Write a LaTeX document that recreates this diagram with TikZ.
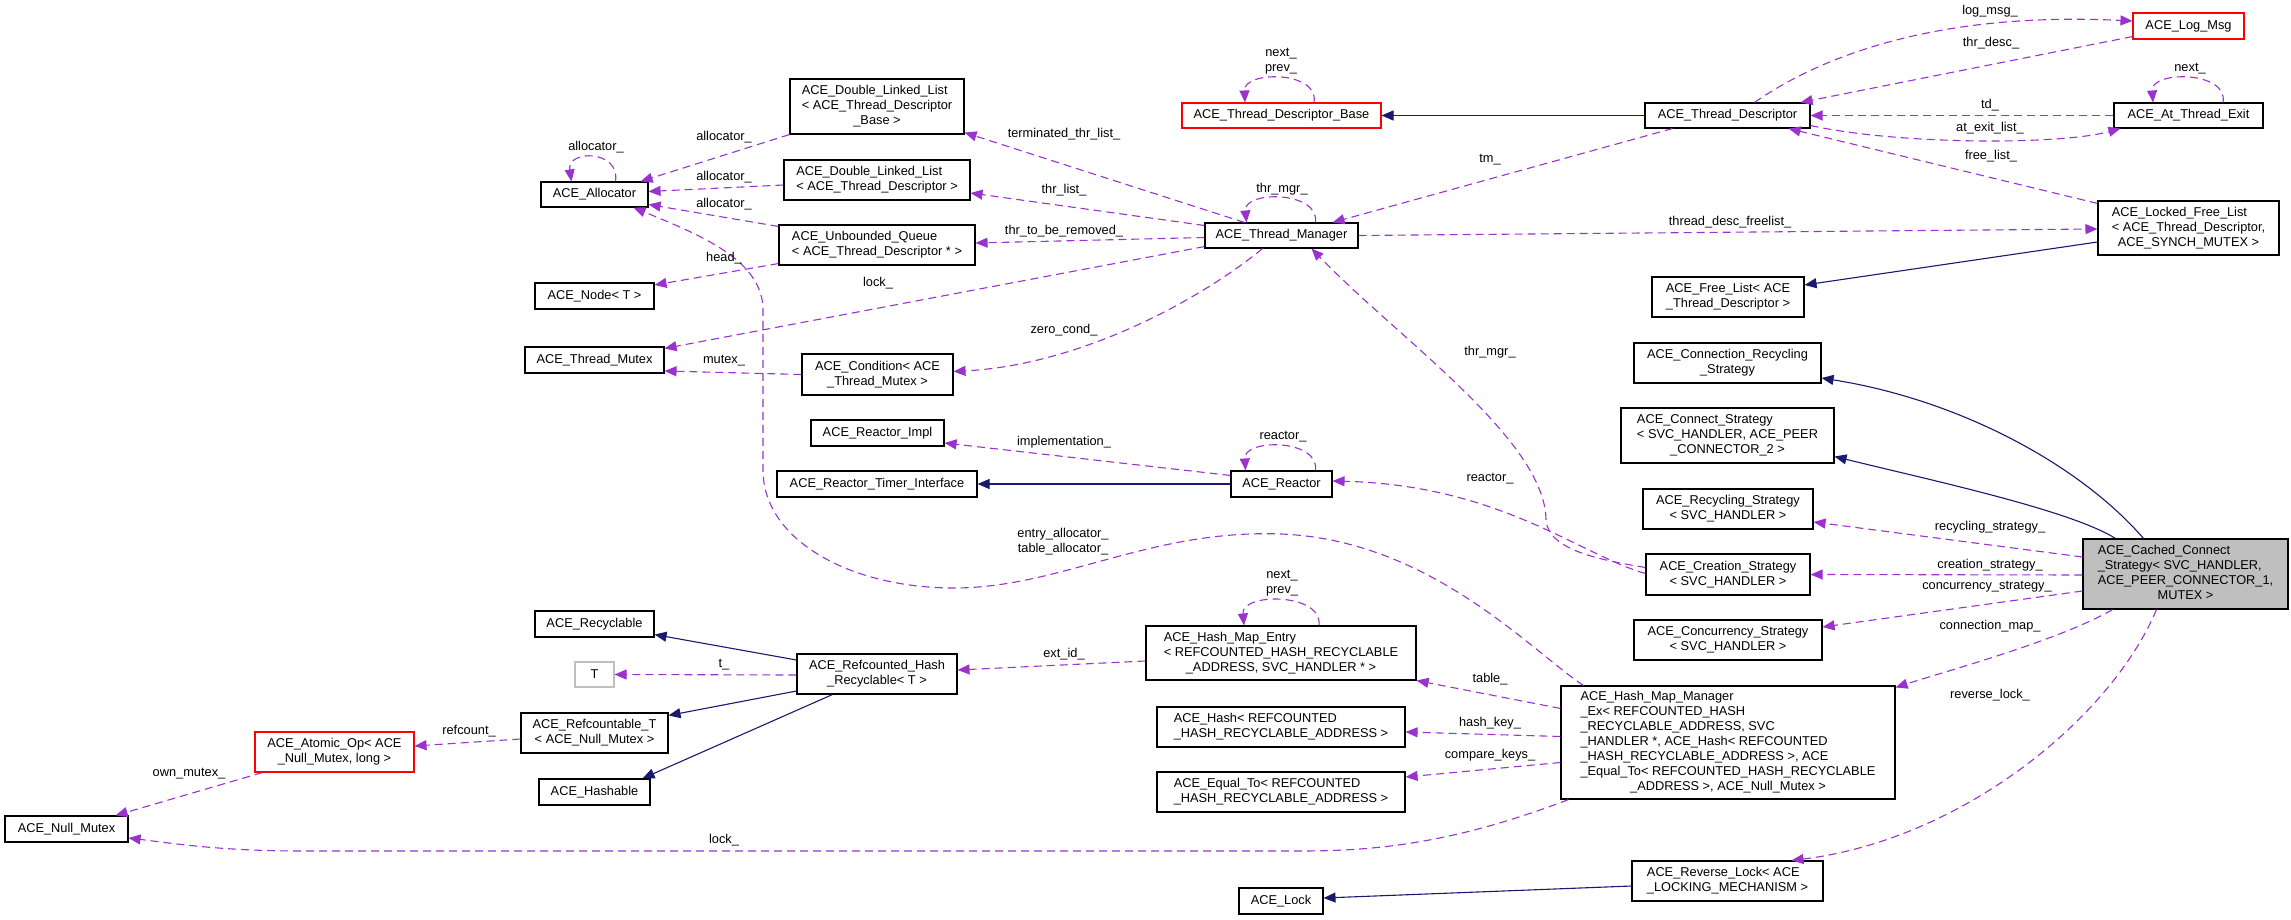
\documentclass[tikz,border=0pt]{standalone}
\usepackage{fontspec}
\setmainfont{Liberation Sans}
\usetikzlibrary{arrows.meta,calc}
\definecolor{edgep}{HTML}{9A32CD}
\definecolor{edgeb}{HTML}{191970}
\definecolor{redb}{HTML}{FF0000}
\definecolor{grayf}{HTML}{BFBFBF}
\newcommand{\mlA}[2]{\begin{tabular}{@{}l@{}}#1\\\multicolumn{1}{@{}c@{}}{#2}\end{tabular}}
\tikzset{
 cls/.style={draw=black, line width=1.1pt, fill=white, inner xsep=3pt, inner ysep=1pt, font=\fontsize{12.8}{15}\selectfont},
 redcls/.style={cls, draw=redb},
 use/.style={draw=edgep, line width=1.1pt, dash pattern=on 8pt off 5pt, -{Triangle[length=12pt,width=10pt]}},
 inh/.style={draw=edgeb, line width=1.1pt, -{Triangle[length=12pt,width=10pt]}},
 lbl/.style={font=\fontsize{12.8}{15}\selectfont, inner sep=0pt, align=center},
}
\begin{document}
\begin{tikzpicture}[x=1pt,y=-1pt]
\useasboundingbox (0,0) rectangle (2291,920);
% nodes
\node[cls, minimum width=107, minimum height=25] (alloc) at (594.5,194.5) {ACE\_Allocator};
\node[cls, minimum width=119, minimum height=26] (anode) at (594.5,296) {ACE\_Node< T >};
\node[cls, minimum width=139, minimum height=26] (tmutex) at (594.5,360) {ACE\_Thread\_Mutex};
\node[cls, minimum width=119, minimum height=26] (recyc) at (594.5,624) {ACE\_Recyclable};
\node[cls, draw=grayf, minimum width=39, minimum height=25] (tt) at (594.5,674.5) {T};
\node[cls, minimum width=147, minimum height=40] (reft) at (594.5,733) {\mlA{ACE\_Refcountable\_T}{< ACE\_Null\_Mutex >}};
\node[cls, minimum width=111, minimum height=26] (hashable) at (594.5,792) {ACE\_Hashable};
\node[redcls, minimum width=159, minimum height=40] (atomic) at (334.5,752) {\mlA{ACE\_Atomic\_Op< ACE}{\_Null\_Mutex, long >}};
\node[cls, minimum width=123, minimum height=26] (nullm) at (66.5,829) {ACE\_Null\_Mutex};
\node[cls, minimum width=174, minimum height=55] (dllbase) at (877,106.5) {\mlA{ACE\_Double\_Linked\_List\\< ACE\_Thread\_Descriptor}{\_Base >}};
\node[cls, minimum width=186, minimum height=40] (dlltd) at (877,180) {\mlA{ACE\_Double\_Linked\_List}{< ACE\_Thread\_Descriptor >}};
\node[cls, minimum width=196, minimum height=40] (uq) at (877,245) {\mlA{ACE\_Unbounded\_Queue}{< ACE\_Thread\_Descriptor * >}};
\node[cls, minimum width=151, minimum height=41] (cond) at (877.5,374.5) {\mlA{ACE\_Condition< ACE}{\_Thread\_Mutex >}};
\node[cls, minimum width=133, minimum height=26] (rimpl) at (877.5,433) {ACE\_Reactor\_Impl};
\node[cls, minimum width=200, minimum height=26] (rti) at (877,484) {ACE\_Reactor\_Timer\_Interface};
\node[cls, minimum width=160, minimum height=40] (rhr) at (877,674) {\mlA{ACE\_Refcounted\_Hash}{\_Recyclable< T >}};
\node[redcls, minimum width=199, minimum height=25] (tdbase) at (1281.5,115.5) {ACE\_Thread\_Descriptor\_Base};
\node[cls, minimum width=153, minimum height=25] (tm) at (1281.5,235.5) {ACE\_Thread\_Manager};
\node[cls, minimum width=101, minimum height=26] (reactor) at (1281.5,484) {ACE\_Reactor};
\node[cls, minimum width=270, minimum height=54] (hme) at (1281,653) {\mlA{ACE\_Hash\_Map\_Entry\\< REFCOUNTED\_HASH\_RECYCLABLE}{\_ADDRESS, SVC\_HANDLER * >}};
\node[cls, minimum width=248, minimum height=40] (ahash) at (1281,727) {\mlA{ACE\_Hash< REFCOUNTED}{\_HASH\_RECYCLABLE\_ADDRESS >}};
\node[cls, minimum width=248, minimum height=40] (equal) at (1281,792) {\mlA{ACE\_Equal\_To< REFCOUNTED}{\_HASH\_RECYCLABLE\_ADDRESS >}};
\node[cls, minimum width=84, minimum height=26] (alock) at (1281,901) {ACE\_Lock};
\node[cls, minimum width=165, minimum height=25] (td) at (1727.5,115.5) {ACE\_Thread\_Descriptor};
\node[cls, minimum width=152, minimum height=40] (freelist) at (1728,297) {\mlA{ACE\_Free\_List< ACE}{\_Thread\_Descriptor >}};
\node[cls, minimum width=187, minimum height=40] (crs) at (1727.5,363) {\mlA{ACE\_Connection\_Recycling}{\_Strategy}};
\node[cls, minimum width=213, minimum height=55] (cs) at (1727.5,435.5) {\mlA{ACE\_Connect\_Strategy\\< SVC\_HANDLER, ACE\_PEER}{\_CONNECTOR\_2 >}};
\node[cls, minimum width=170, minimum height=40] (rs) at (1728,509) {\mlA{ACE\_Recycling\_Strategy}{< SVC\_HANDLER >}};
\node[cls, minimum width=164, minimum height=41] (crst) at (1728,574.5) {\mlA{ACE\_Creation\_Strategy}{< SVC\_HANDLER >}};
\node[cls, minimum width=188, minimum height=40] (ccs) at (1728,640) {\mlA{ACE\_Concurrency\_Strategy}{< SVC\_HANDLER >}};
\node[cls, minimum width=334, minimum height=113] (hmm) at (1728,742.5) {\mlA{ACE\_Hash\_Map\_Manager\\\_Ex< REFCOUNTED\_HASH\\\_RECYCLABLE\_ADDRESS, SVC\\\_HANDLER *, ACE\_Hash< REFCOUNTED\\\_HASH\_RECYCLABLE\_ADDRESS >, ACE\\\_Equal\_To< REFCOUNTED\_HASH\_RECYCLABLE}{\_ADDRESS >, ACE\_Null\_Mutex >}};
\node[cls, minimum width=191, minimum height=40] (rlock) at (1727.5,881) {\mlA{ACE\_Reverse\_Lock< ACE}{\_LOCKING\_MECHANISM >}};
\node[redcls, minimum width=111, minimum height=26] (logmsg) at (2188.5,26) {ACE\_Log\_Msg};
\node[cls, minimum width=149, minimum height=25] (ate) at (2188.5,115.5) {ACE\_At\_Thread\_Exit};
\node[cls, minimum width=181, minimum height=54] (lfl) at (2188.5,228) {\mlA{ACE\_Locked\_Free\_List\\< ACE\_Thread\_Descriptor,}{ACE\_SYNCH\_MUTEX >}};
\node[cls, fill=grayf, minimum width=205, minimum height=70] (cached) at (2185.5,574) {\mlA{ACE\_Cached\_Connect\\\_Strategy< SVC\_HANDLER,\\ACE\_PEER\_CONNECTOR\_1,}{MUTEX >}};
% edges
\draw[use] ($(alloc.north)+(21,0)$) .. controls ($(alloc.north)+(26,-32)$) and ($(alloc.north)+(-28,-32)$) .. ($(alloc.north)+(-23,0)$);
\draw[use] (dllbase.south west) -- ($(alloc.north east)+(-8,0)$);
\draw[use] ($(dlltd.west)+(0,5)$) -- ($(alloc.east)+(0,-3)$);
\draw[use] ($(uq.north west)+(0,2)$) -- ($(alloc.east)+(0,10)$);
\draw[use] ($(uq.south west)+(0,-2)$) -- ($(anode.east)+(0,-11)$);
\draw[use] ($(tm.south west)+(0,-2)$) -- ($(tmutex.north east)+(0,2)$);
\draw[use] (cond.west) -- ($(tmutex.east)+(0,11)$);
\draw[use] ($(tm.south)+(-19,0)$) .. controls (1200,300) and (1080,365) .. ($(cond.east)+(0,-3)$);
\draw[use] ($(tm.north west)+(40,0)$) -- ($(dllbase.south east)+(0,-2)$);
\draw[use] ($(tm.west)+(0,-10)$) -- ($(dlltd.east)+(0,13)$);
\draw[use] ($(tm.west)+(0,2)$) -- ($(uq.east)+(0,-2)$);
\draw[use] ($(tm.north)+(34,0)$) .. controls ($(tm.north)+(38,-32)$) and ($(tm.north)+(-38,-32)$) .. ($(tm.north)+(-35,0)$);
\draw[use] ($(td.south west)+(28,0)$) -- ($(tm.north east)+(-26,0)$);
\draw[use] (tm.east) -- ($(lfl.west)+(0,1)$);
\draw[inh] (td.west) -- (tdbase.east);
\draw[use] ($(tdbase.north)+(32.5,0)$) .. controls ($(tdbase.north)+(38,-32)$) and ($(tdbase.north)+(-38,-32)$) .. ($(tdbase.north)+(-36.5,0)$);
\draw[use] ($(td.north)+(27,0)$) .. controls (1830,50) and (1950,12) .. ($(logmsg.west)+(0,-5)$);
\draw[use] ($(logmsg.south west)+(0,-3)$) -- ($(td.north east)+(-10,0)$);
\draw[use] (ate.west) -- (td.east);
\draw[use] ($(td.south east)+(0,-3)$) .. controls (1900,145) and (2060,145) .. ($(ate.south west)+(7,0)$);
\draw[use] ($(ate.north)+(34.5,0)$) .. controls ($(ate.north)+(40,-32)$) and ($(ate.north)+(-38,-32)$) .. ($(ate.north)+(-35.5,0)$);
\draw[use] ($(lfl.north west)+(0,3)$) -- ($(td.south east)+(-22,0)$);
\draw[inh] ($(lfl.west)+(0,14)$) -- ($(freelist.east)+(0,-12)$);
\draw[inh] ($(cached.north)+(-42,0)$) .. controls (2080,465) and (1960,400) .. ($(crs.east)+(0,15)$);
\draw[inh] ($(cached.north)+(-70,0)$) .. controls (2070,510) and (1930,480) .. ($(cs.east)+(0,21)$);
\draw[use] ($(cached.west)+(0,-17)$) -- ($(rs.east)+(0,13)$);
\draw[use] ($(cached.west)+(0,1)$) -- (crst.east);
\draw[use] ($(cached.west)+(0,17)$) -- ($(ccs.east)+(0,-13)$);
\draw[use] ($(cached.south)+(-73,0)$) .. controls (2060,640) and (1950,670) .. ($(hmm.north east)+(0,2)$);
\draw[use] ($(cached.south)+(-29,0)$) .. controls (2110,720) and (1960,840) .. ($(rlock.north)+(64,0)$);
\draw[inh] ($(rlock.west)+(0,5)$) -- ($(alock.east)+(0,-3)$);
\draw[use] ($(crst.west)+(0,-7)$) .. controls (1600,560) and (1548,550) .. (1546,520) .. controls (1545,440) and (1400,340) .. ($(tm.south)+(30,0)$);
\draw[use] ($(crst.west)+(0,-1)$) .. controls (1580,555) and (1500,485) .. ($(reactor.east)+(0,-3)$);
\draw[use] ($(reactor.north west)+(0,5)$) -- ($(rimpl.east)+(0,10)$);
\draw[inh] (reactor.west) -- (rti.east);
\draw[use] ($(reactor.north)+(34,0)$) .. controls ($(reactor.north)+(38,-32)$) and ($(reactor.north)+(-38,-32)$) .. ($(reactor.north)+(-36,0)$);
\draw[use] ($(hme.north)+(38,0)$) .. controls ($(hme.north)+(42,-33)$) and ($(hme.north)+(-40,-33)$) .. ($(hme.north)+(-37,0)$);
\draw[use] ($(hme.west)+(0,8)$) -- ($(rhr.east)+(0,-4)$);
\draw[use] ($(hmm.north west)+(0,23)$) -- (hme.south east);
\draw[use] ($(hmm.west)+(0,-6)$) -- ($(ahash.east)+(0,5)$);
\draw[use] ($(hmm.west)+(0,20)$) -- ($(equal.east)+(0,-15)$);
\draw[use] ($(hmm.south west)+(8,0)$) .. controls (1450,845) and (1370,851) .. (1300,851) -- (300,851) .. controls (220,851) and (170,843) .. ($(nullm.east)+(0,9)$);
\draw[inh] ($(rhr.west)+(0,-14)$) -- ($(recyc.south east)+(0,-3)$);
\draw[use] ($(rhr.west)+(0,1)$) -- (tt.east);
\draw[inh] ($(rhr.west)+(0,17)$) -- ($(reft.north east)+(0,3)$);
\draw[inh] ($(rhr.south west)+(36,0)$) -- ($(hashable.north east)+(-8,0)$);
\draw[use] ($(reft.west)+(0,6)$) -- ($(atomic.east)+(0,-6)$);
\draw[use] ($(atomic.south west)+(8,0)$) -- ($(nullm.north east)+(-13,0)$);
\draw[use] ($(hmm.north west)+(23,0)$) .. controls (1530,650) and (1430,540) .. (1281,534) .. controls (1150,529) and (1060,588) .. (954,588) .. controls (850,588) and (763,540) .. (763,470) -- (763,310) .. controls (763,260) and (700,235) .. ($(alloc.south east)+(-15,0)$);
% labels
\node[lbl] (l1) at (596,147) {allocator\_};
\node[lbl] (l2) at (724,137) {allocator\_};
\node[lbl] (l3) at (724,177) {allocator\_};
\node[lbl] (l4) at (724,204) {allocator\_};
\node[lbl] (l5) at (724,258) {head\_};
\node[lbl] (l6) at (878,283) {lock\_};
\node[lbl] (l7) at (724,361) {mutex\_};
\node[lbl] (l8) at (1064,330) {zero\_cond\_};
\node[lbl] (l9) at (1064,134) {terminated\_thr\_list\_};
\node[lbl] (l10) at (1064,190) {thr\_list\_};
\node[lbl] (l11) at (1064,231) {thr\_to\_be\_removed\_};
\node[lbl] (l12) at (1282,189) {thr\_mgr\_};
\node[lbl] (l13) at (1490,160) {tm\_};
\node[lbl] (l14) at (1730,222) {thread\_desc\_freelist\_};
\node[lbl] (l15) at (1281,61) {next\_\\prev\_};
\node[lbl] (l16) at (1990,11) {log\_msg\_};
\node[lbl] (l17) at (1991,43) {thr\_desc\_};
\node[lbl] (l18) at (1990,105) {td\_};
\node[lbl] (l19) at (1990,128) {at\_exit\_list\_};
\node[lbl] (l20) at (2190,69) {next\_};
\node[lbl] (l21) at (1991,156) {free\_list\_};
\node[lbl] (l22) at (1990,527) {recycling\_strategy\_};
\node[lbl] (l23) at (1990,565) {creation\_strategy\_};
\node[lbl] (l24) at (1987,587) {concurrency\_strategy\_};
\node[lbl] (l25) at (1990,626) {connection\_map\_};
\node[lbl] (l26) at (1990,695) {reverse\_lock\_};
\node[lbl] (l27) at (1490,352) {thr\_mgr\_};
\node[lbl] (l28) at (1490,479) {reactor\_};
\node[lbl] (l29) at (1064,442) {implementation\_};
\node[lbl] (l30) at (1283,437) {reactor\_};
\node[lbl] (l31) at (1063,542) {entry\_allocator\_\\table\_allocator\_};
\node[lbl] (l32) at (1282,583) {next\_\\prev\_};
\node[lbl] (l33) at (1064,654) {ext\_id\_};
\node[lbl] (l34) at (1490,679) {table\_};
\node[lbl] (l35) at (1490,723) {hash\_key\_};
\node[lbl] (l36) at (1490,755) {compare\_keys\_};
\node[lbl] (l37) at (724,840) {lock\_};
\node[lbl] (l38) at (724,665) {t\_};
\node[lbl] (l39) at (469,731) {refcount\_};
\node[lbl] (l40) at (189,774) {own\_mutex\_};
\end{tikzpicture}
\end{document}
